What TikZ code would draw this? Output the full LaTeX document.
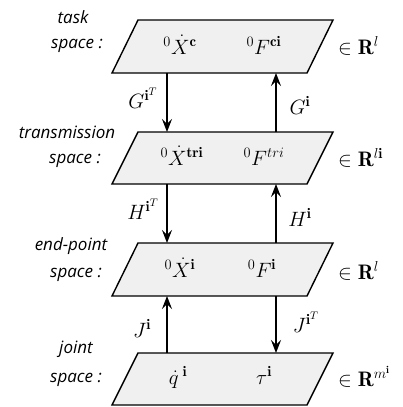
\documentclass[tikz,border=0pt]{standalone}
\usepackage{amsmath,amssymb}
\usepackage{fontspec}
\setsansfont{Open Sans}
\usetikzlibrary{arrows.meta,positioning}

\begin{document}
\begin{tikzpicture}[x=1pt,y=-1pt,
    plane/.style={draw,line width=1.4pt,fill=gray!12},
    word/.style={font=\fontsize{17}{19}\selectfont\sffamily\itshape,inner sep=0pt},
    sym/.style={font=\fontsize{21}{23}\selectfont,inner sep=0pt},
    map/.style={line width=1.2pt,-{Stealth[length=13pt,width=10pt,inset=5pt]}}]
  \useasboundingbox (0,0) rectangle (403,407);
  % the four spaces
  \draw[plane] (112,73) -- (307,73) -- (333,20) -- (138,20) -- cycle;
  \draw[plane] (112,184) -- (307,184) -- (333,132) -- (138,132) -- cycle;
  \draw[plane] (112,296) -- (307,296) -- (333,243) -- (138,243) -- cycle;
  \draw[plane] (112,405) -- (307,405) -- (333,353) -- (138,353) -- cycle;
  % arrow ends on the edges
  \coordinate (taskBL) at (167,73);  \coordinate (taskBR) at (276,73);
  \coordinate (trnTL) at (167,132);  \coordinate (trnTR) at (276,132);
  \coordinate (trnBL) at (167,184);  \coordinate (trnBR) at (276,184);
  \coordinate (endTL) at (167,243);  \coordinate (endTR) at (276,243);
  \coordinate (endBL) at (167,296);  \coordinate (endBR) at (276,296);
  \coordinate (jntTL) at (167,353);  \coordinate (jntTR) at (276,353);
  % left names
  \node[word,anchor=base] (taskW) at (73,23) {task};
  \node[word,anchor=base east] (taskS) at (103,48) {space :};
  \node[word,anchor=base] (trnW) at (67,138) {transmission};
  \node[word,anchor=base east] (trnS) at (101,163) {space :};
  \node[word,anchor=base] (endW) at (71,250) {end-point};
  \node[word,anchor=base east] (endS) at (102,277) {space :};
  \node[word,anchor=base] (jntW) at (76,353) {joint};
  \node[word,anchor=base east] (jntS) at (102,382) {space :};
  % contents
  \node[sym,anchor=base] (xc) at (180,54) {${}^{0}\dot{X}^{\mathbf{c}}$};
  \node[sym,anchor=base] (fc) at (264,54) {${}^{0}F^{\mathbf{ci}}$};
  \node[sym,anchor=base] (xtri) at (182,165) {${}^{0}\dot{X}^{\mathbf{tri}}$};
  \node[sym,anchor=base] (ftri) at (264,165) {${}^{0}F^{tri}$};
  \node[sym,anchor=base] (xi) at (180,277) {${}^{0}\dot{X}^{\mathbf{i}}$};
  \node[sym,anchor=base] (fi) at (262,277) {${}^{0}F^{\mathbf{i}}$};
  \node[sym,anchor=base] (qi) at (178,384) {$\dot{q}^{\;\mathbf{i}}$};
  \node[sym,anchor=base] (ti) at (264,384) {$\tau^{\mathbf{i}}$};
  % dimensions
  \node[sym,anchor=base west] (rt) at (338,54) {$\in\mathbf{R}^{l}$};
  \node[sym,anchor=base west] (rtr) at (338,166) {$\in\mathbf{R}^{l\mathbf{i}}$};
  \node[sym,anchor=base west] (re) at (338,279) {$\in\mathbf{R}^{l}$};
  \node[sym,anchor=base west] (rj) at (338,386) {$\in\mathbf{R}^{m^{\mathbf{i}}}$};
  % maps between the spaces
  \draw[map] (taskBL) -- (trnTL);
  \draw[map] (trnTR) -- (taskBR);
  \draw[map] (trnBL) -- (endTL);
  \draw[map] (endTR) -- (trnBR);
  \draw[map] (jntTL) -- (endBL);
  \draw[map] (endBR) -- (jntTR);
  \node[sym,anchor=base] (gT) at (143,108) {$G^{\mathbf{i}^T}$};
  \node[sym,anchor=base] (g) at (300,114) {$G^{\mathbf{i}}$};
  \node[sym,anchor=base] (hT) at (143,219) {$H^{\mathbf{i}^T}$};
  \node[sym,anchor=base] (h) at (300,226) {$H^{\mathbf{i}}$};
  \node[sym,anchor=base] (j) at (142,337) {$J^{\mathbf{i}}$};
  \node[sym,anchor=base] (jT) at (306,332) {$J^{\mathbf{i}^T}$};
\end{tikzpicture}
\end{document}
